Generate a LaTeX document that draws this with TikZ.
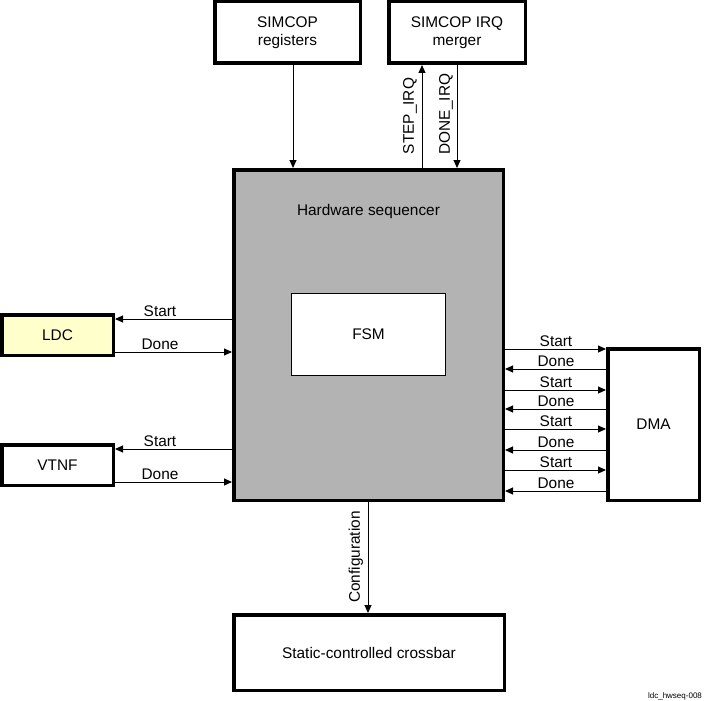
\documentclass[tikz,border=0pt]{standalone}
\usepackage{fontspec}
\setmainfont{Liberation Sans}
\usetikzlibrary{arrows.meta}
\newcommand{\lblfont}{\fontsize{15.4}{17.5}\selectfont}
\definecolor{hwgray}{RGB}{179,179,179}
\definecolor{ldcyellow}{RGB}{255,255,204}
\begin{document}
\begin{tikzpicture}[x=1pt,y=-1pt,
  blk/.style 2 args={draw, line width=3.5pt, fill=white, inner sep=0pt, align=center,
    font=\lblfont, minimum width=#1pt-3.5pt, minimum height=#2pt-3.5pt},
  thinblk/.style 2 args={draw, line width=1pt, fill=white, inner sep=0pt, align=center,
    font=\lblfont, minimum width=#1pt-1pt, minimum height=#2pt-1pt},
  arr/.style={line width=1pt, -{Triangle[length=8pt,width=7pt]}},
  sig/.style={font=\lblfont, inner sep=0pt, anchor=base},
  vsig/.style={font=\lblfont, inner sep=0pt, rotate=90}
]
\useasboundingbox (0,0) rectangle (704,701);

% boxes
\node[blk={149}{65}] (reg) at (287.5,32.5) {SIMCOP\\registers};
\node[blk={140}{65}] (irq) at (457,32.5) {SIMCOP IRQ\\merger};
\node[blk={273}{334}, fill=hwgray] (hw) at (368.5,335) {};
\node[font=\lblfont] (hwlbl) at (368.5,212) {Hardware sequencer};
\node[thinblk={155}{83}] (fsm) at (368.5,334.5) {FSM};
\node[blk={115}{44}, fill=ldcyellow] (ldc) at (57.5,335) {LDC};
\node[blk={115}{44}] (vtnf) at (57.5,465) {VTNF};
\node[blk={95}{155}] (dma) at (653.5,424.5) {DMA};
\node[blk={274}{79}] (xbar) at (369,652.5) {Static-controlled crossbar};

% top connectors
\draw[arr] (reg.south -| 293,0) -- (hw.north -| 293,0);
\draw[arr] (hw.north -| 422,0) -- (irq.south -| 422,0);
\draw[arr] (irq.south -| 457,0) -- (hw.north -| 457,0);
\node[vsig] (stepl) at (410,116) {STEP\_IRQ};
\node[vsig] (donel) at (446,114) {DONE\_IRQ};

% LDC
\draw[arr] (hw.west |- 0,319) -- (ldc.east |- 0,319);
\draw[arr] (ldc.east |- 0,352) -- (hw.west |- 0,352);
\node[sig] (ls) at (160,316.5) {Start};
\node[sig] (ld) at (160,349.5) {Done};

% VTNF
\draw[arr] (hw.west |- 0,449) -- (vtnf.east |- 0,449);
\draw[arr] (vtnf.east |- 0,482) -- (hw.west |- 0,482);
\node[sig] (vs) at (160,446.5) {Start};
\node[sig] (vd) at (160,479.5) {Done};

% DMA
\foreach \ys/\yd [count=\i] in {349/369, 390/409, 429/450, 470/491}{
  \draw[arr] (hw.east |- 0,\ys) -- (dma.west |- 0,\ys);
  \draw[arr] (dma.west |- 0,\yd) -- (hw.east |- 0,\yd);
  \node[sig] (ds\i) at (556,\ys-3) {Start};
  \node[sig] (dd\i) at (556,\yd-3) {Done};
}

% configuration
\draw[arr] (hw.south -| 368,0) -- (xbar.north -| 368,0);
\node[vsig] (cfg) at (356,557) {Configuration};

% figure id
\node[font=\fontsize{8}{9}\selectfont, inner sep=0pt] (fid) at (675,696) {ldc\_hwseq-008};
\end{tikzpicture}
\end{document}
